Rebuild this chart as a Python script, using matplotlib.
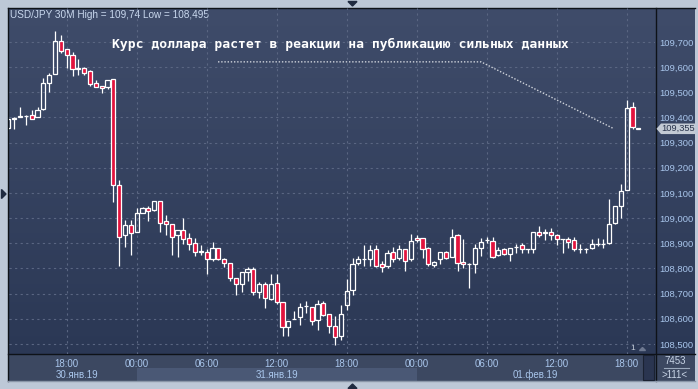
import numpy as np
import matplotlib
matplotlib.use('Agg')
import matplotlib.pyplot as plt
from matplotlib.patches import Rectangle, Polygon
from matplotlib.colors import LinearSegmentedColormap
import matplotlib.transforms as mtransforms

plt.rcParams['font.family'] = ['Liberation Sans', 'DejaVu Sans']

# ---------------- data ----------------
symbol_text = "USD/JPY 30M High = 109,74 Low = 108,495"
title_text = "Курс доллара растет в реакции на публикацию сильных данных"

opens = [109.360, 109.395, 109.403, 109.405, 109.409, 109.401, 109.433, 109.536, 109.573, 109.704,
         109.671, 109.647, 109.596, 109.596, 109.585, 109.536, 109.525, 109.523, 109.553, 109.131,
         108.931, 108.973, 108.945, 109.020, 109.040, 109.032, 109.068, 108.989, 108.977, 108.931,
         108.953, 108.921, 108.901, 108.866, 108.865, 108.838, 108.881, 108.838, 108.822, 108.762,
         108.737, 108.786, 108.799, 108.707, 108.739, 108.679, 108.742, 108.667, 108.568, 108.599,
         108.607, 108.649, 108.647, 108.596, 108.663, 108.617, 108.570, 108.531, 108.654, 108.713,
         108.822, 108.838, 108.838, 108.877, 108.818, 108.808, 108.867, 108.842, 108.877, 108.838,
         108.921, 108.921, 108.881, 108.815, 108.838, 108.866, 108.846, 108.933, 108.824, 108.818,
         108.818, 108.881, 108.913, 108.911, 108.854, 108.877, 108.858, 108.884, 108.894, 108.877,
         108.877, 108.945, 108.942, 108.945, 108.933, 108.918, 108.917, 108.914, 108.876, 108.877,
         108.881, 108.897, 108.897, 108.901, 108.981, 109.048, 109.112, 109.441, 109.355]
highs = [109.395, 109.400, 109.441, 109.410, 109.430, 109.441, 109.556, 109.578, 109.744, 109.728,
         109.671, 109.661, 109.631, 109.600, 109.589, 109.549, 109.527, 109.550, 109.553, 109.152,
         108.994, 108.994, 109.040, 109.043, 109.049, 109.070, 109.068, 109.013, 108.977, 108.953,
         109.000, 108.941, 108.921, 108.894, 108.879, 108.904, 108.881, 108.840, 108.822, 108.762,
         108.786, 108.806, 108.806, 108.746, 108.746, 108.779, 108.779, 108.667, 108.592, 108.630,
         108.663, 108.670, 108.647, 108.676, 108.670, 108.617, 108.610, 108.656, 108.758, 108.842,
         108.848, 108.892, 108.894, 108.894, 108.828, 108.873, 108.885, 108.894, 108.877, 108.937,
         108.933, 108.921, 108.885, 108.830, 108.866, 108.870, 108.957, 108.938, 108.917, 108.820,
         108.897, 108.921, 108.923, 108.923, 108.885, 108.880, 108.881, 108.898, 108.900, 108.878,
         108.945, 108.967, 108.957, 108.960, 108.935, 108.918, 108.925, 108.923, 108.897, 108.880,
         108.918, 108.922, 108.917, 109.077, 109.049, 109.136, 109.470, 109.461, 109.358]
lows = [109.355, 109.356, 109.402, 109.370, 109.394, 109.401, 109.430, 109.503, 109.573, 109.658,
        109.596, 109.565, 109.569, 109.570, 109.525, 109.520, 109.499, 109.515, 109.066, 108.808,
        108.884, 108.855, 108.945, 109.019, 108.990, 109.030, 108.943, 108.934, 108.855, 108.844,
        108.898, 108.875, 108.851, 108.855, 108.777, 108.829, 108.835, 108.806, 108.749, 108.693,
        108.705, 108.749, 108.694, 108.683, 108.643, 108.673, 108.660, 108.531, 108.533, 108.598,
        108.574, 108.623, 108.574, 108.557, 108.610, 108.544, 108.494, 108.515, 108.634, 108.693,
        108.815, 108.808, 108.808, 108.805, 108.784, 108.800, 108.824, 108.835, 108.788, 108.828,
        108.905, 108.842, 108.810, 108.805, 108.818, 108.838, 108.846, 108.788, 108.802, 108.723,
        108.782, 108.851, 108.900, 108.840, 108.850, 108.855, 108.828, 108.861, 108.860, 108.862,
        108.862, 108.925, 108.912, 108.915, 108.893, 108.862, 108.880, 108.870, 108.862, 108.862,
        108.878, 108.890, 108.880, 108.899, 108.978, 108.999, 109.110, 109.353, 109.355]
closes = [109.393, 109.398, 109.405, 109.404, 109.393, 109.429, 109.536, 109.569, 109.704, 109.665,
          109.647, 109.592, 109.594, 109.576, 109.532, 109.523, 109.516, 109.548, 109.130, 108.923,
          108.973, 108.941, 109.020, 109.040, 109.028, 109.068, 108.981, 108.977, 108.925, 108.953,
          108.917, 108.896, 108.865, 108.868, 108.838, 108.881, 108.838, 108.822, 108.761, 108.739,
          108.786, 108.799, 108.705, 108.739, 108.681, 108.739, 108.665, 108.568, 108.592, 108.600,
          108.647, 108.650, 108.591, 108.657, 108.614, 108.570, 108.528, 108.618, 108.709, 108.818,
          108.838, 108.838, 108.875, 108.808, 108.806, 108.861, 108.838, 108.877, 108.828, 108.911,
          108.914, 108.879, 108.818, 108.824, 108.864, 108.842, 108.925, 108.822, 108.818, 108.818,
          108.881, 108.905, 108.914, 108.846, 108.872, 108.858, 108.881, 108.885, 108.878, 108.877,
          108.945, 108.934, 108.943, 108.934, 108.917, 108.917, 108.905, 108.877, 108.877, 108.877,
          108.897, 108.898, 108.898, 108.977, 109.049, 109.107, 109.437, 109.362, 109.358]

time_tick_idx = [10, 22, 34, 46, 58, 70, 82, 94, 106]
time_tick_labels = ["18:00", "00:00", "06:00", "12:00", "18:00", "00:00", "06:00", "12:00", "18:00"]
price_ticks = [108.5, 108.6, 108.7, 108.8, 108.9, 109.0, 109.1, 109.2, 109.3, 109.4, 109.5, 109.6, 109.7]
date_labels = ["30.янв.19", "31.янв.19", "01.фев.19"]
last_price = 109.355
volume_text = "7453"
spread_text = ">111<"

# ---------------- layout ----------------
W, H = 698, 389
fig = plt.figure(figsize=(W / 100, H / 100), dpi=100, facecolor='#bdc8d7')

bg = fig.add_axes([0, 0, 1, 1])
bg.set_xlim(0, W)
bg.set_ylim(H, 0)
bg.axis('off')

cmap = LinearSegmentedColormap.from_list('g', ['#3f4c6a', '#2b3855'])
grad = np.linspace(0, 1, 256).reshape(-1, 1)
bg.imshow(grad, extent=(8, 695, 354, 8), aspect='auto', cmap=cmap, zorder=0)

# time panel
bg.add_patch(Rectangle((8, 354), 687, 27, fc='#3c4861', ec='none', zorder=1))

# main axes
px_left, px_right, px_top, px_bot = 9, 655, 8, 354
ax = fig.add_axes([px_left / W, 1 - px_bot / H, (px_right - px_left) / W, (px_bot - px_top) / H])
ax.set_facecolor('none')
step = 5.833
x0 = 10 - (66.7 - px_left) / step
x1 = x0 + (px_right - px_left) / step
ax.set_xlim(x0, x1)
ax.set_ylim(108.460, 109.835)
for s in ax.spines.values():
    s.set_visible(False)

def idx_to_px(i):
    return px_left + (i - x0) * step

# lighter date band between 00:00 31 Jan and 00:00 1 Feb
bg.add_patch(Rectangle((idx_to_px(time_tick_idx[1]), 367.5), idx_to_px(time_tick_idx[5]) - idx_to_px(time_tick_idx[1]), 13.5,
                       fc='#4a5875', ec='none', zorder=1.5))

# grid and ticks
ax.set_xticks(time_tick_idx)
ax.set_xticklabels(time_tick_labels)
ax.set_yticks(price_ticks)
ax.set_yticklabels([f"{p:.3f}".replace('.', ',') for p in price_ticks])
ax.yaxis.tick_right()
ax.grid(True, color='#5a6682', lw=0.8, ls=(0, (2, 3)))
ax.set_axisbelow(True)
ax.tick_params(axis='y', length=0, pad=3, labelsize=6.8, labelcolor='#a9c6ec')
ax.tick_params(axis='x', length=0, pad=3.3, labelsize=7.0, labelcolor='#a9c6ec')

# candles
n = len(opens)
xs = np.arange(n)
o = np.array(opens); h = np.array(highs); l = np.array(lows); c = np.array(closes)
top = np.maximum(o, c); bot = np.minimum(o, c)
ax.vlines(xs, top, h, color='white', lw=0.9, zorder=3)
ax.vlines(xs, l, bot, color='white', lw=0.9, zorder=3)
down = c < o
face = ['#e2133d' if d else 'none' for d in down]
ax.bar(xs, top - bot, bottom=bot, width=0.7, color=face, edgecolor='white', linewidth=0.9, zorder=4)

# annotation text and dotted pointer
ax.text(56.9, 109.69, title_text, ha='center', va='center', family='DejaVu Sans Mono',
        weight='bold', size=9.4, color='white', zorder=5)
ax.plot([35.94, 81.03, 103.83], [109.621, 109.621, last_price], color='#d0d4dc', lw=1.0,
        ls=(0, (1, 1.3)), zorder=5)

# top-left symbol text
bg.text(10, 14.5, symbol_text, ha='left', va='center', size=7.2, color='#c9d8ee', zorder=6)

# date labels
date_pos = [11.7, 46.0, 90.4]
trans_x = mtransforms.blended_transform_factory(ax.transData, bg.transData)
for pos, lab in zip(date_pos, date_labels):
    ax.text(pos, 374.5, lab, transform=trans_x, ha='center', va='center', size=7.0,
            color='#a9c6ec', clip_on=False, zorder=6)

# frame lines
line_c = '#0e1218'
bg.plot([8, 695], [8, 8], color=line_c, lw=1, zorder=7)
bg.plot([8, 8], [8, 381], color=line_c, lw=1, zorder=7)
bg.plot([8, 695], [354, 354], color=line_c, lw=1, zorder=7)
bg.plot([655.5, 655.5], [8, 381], color=line_c, lw=1, zorder=7)
bg.plot([8, 695], [381, 381], color='#8a96a8', lw=1, zorder=7)

# current price label
tr_px = mtransforms.blended_transform_factory(bg.transData, ax.transData)
d = 0.021
ax.add_patch(Polygon([(656.5, last_price), (661, last_price + d), (695, last_price + d),
                      (695, last_price - d), (661, last_price - d)], closed=True,
                     transform=tr_px, fc='#c3cad4', ec='none', clip_on=False, zorder=8))
ax.text(661, last_price, f"{last_price:.3f}".replace('.', ','), transform=tr_px, ha='left',
        va='center', size=6.7, color='#27324a', clip_on=False, zorder=9)

# bottom-right info
bg.text(675, 361, volume_text, ha='center', va='center', size=7.0, color='#c8d4e6', zorder=8)
bg.plot([664, 689], [368, 368], color='#9aa8bc', lw=0.8, zorder=8)
bg.text(675, 374.5, spread_text, ha='center', va='center', size=7.0, color='#c8d4e6', zorder=8)

# small scroll box and marker
bg.add_patch(Rectangle((643, 355), 11, 25, fc='#2a3550', ec='#1a2232', lw=0.8, zorder=8))
bg.text(632.5, 349, '1', ha='center', va='center', size=6, color='#c8d0dc', zorder=8)
bg.fill([639.5, 645.5, 642.5], [350.5, 350.5, 347.5], color='#6d7890', zorder=8)

# border triangles
tri_c = '#1f2a40'
bg.fill([348, 357, 352.5], [1.5, 1.5, 6], color=tri_c, zorder=8)
bg.fill([348, 357, 352.5], [388.5, 388.5, 384], color=tri_c, zorder=8)
bg.fill([1.5, 1.5, 6], [189.5, 198.5, 194], color=tri_c, zorder=8)

fig.savefig('out.png', dpi=100, facecolor=fig.get_facecolor())
